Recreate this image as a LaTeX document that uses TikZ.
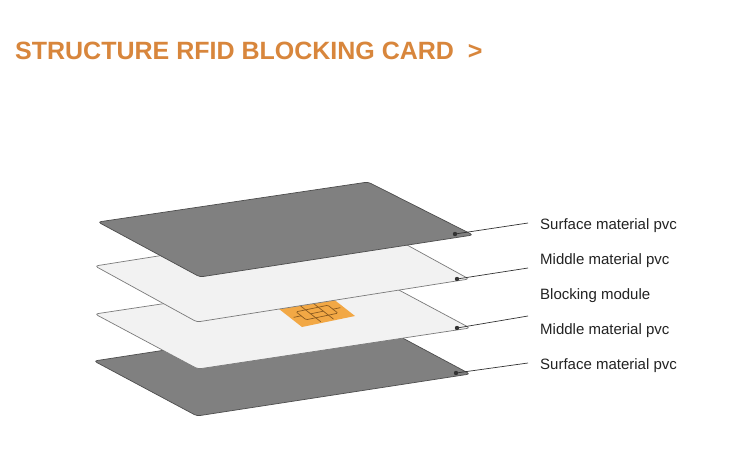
\documentclass[tikz,border=0pt]{standalone}
\usepackage{fontspec}
\setmainfont{Liberation Sans}
\definecolor{titleorange}{HTML}{D8863C}
\definecolor{darkcard}{HTML}{808080}
\definecolor{darkedge}{HTML}{4D4D4D}
\definecolor{lightcard}{HTML}{F2F2F2}
\definecolor{lightedge}{HTML}{7A7A7A}
\definecolor{chipfill}{HTML}{F2A845}
\definecolor{chipline}{HTML}{8A5A20}
\definecolor{leader}{HTML}{333333}
\definecolor{labeltext}{HTML}{222222}
\begin{document}
\begin{tikzpicture}[x=1pt,y=1pt,
  darkcardstyle/.style={fill=darkcard,draw=darkedge,line width=0.7pt,rounded corners=3pt,line join=round},
  lightcardstyle/.style={fill=lightcard,draw=lightedge,line width=0.7pt,rounded corners=3pt,line join=round},
  chipcontact/.style={draw=chipline,line width=0.7pt,rounded corners=1.2pt},
  leaderline/.style={draw=leader,line width=0.7pt},
  leaderdot/.style={circle,fill=leader,inner sep=0pt,minimum size=4.4pt},
  labelnode/.style={anchor=base west,inner sep=0pt,text=labeltext,font=\fontsize{15}{18}\selectfont},
  titlenode/.style={anchor=west,inner sep=0pt,text=titleorange,font=\fontsize{25}{30}\selectfont\bfseries}]
\useasboundingbox (0,0) rectangle (750,-458);
\fill[white] (0,0) rectangle (750,-458);

% title
\node[titlenode] (title) at (15,-51) {STRUCTURE RFID BLOCKING CARD\ \ >};

% bottom dark card
\draw[darkcardstyle] (94,-361) -- (367,-319) -- (470,-374) -- (197,-416) -- cycle;
% middle card 2
\draw[lightcardstyle] (95,-314) -- (367,-273) -- (470,-328) -- (198,-369) -- cycle;
% chip on middle card 2
\begin{scope}[shift={(302,-327)},x={(53pt,11pt)},y={(-23pt,18pt)}]
  \fill[chipfill] (0,0) -- (1,0) -- (1,1) -- (0,1) -- cycle;
  % central band
  \draw[chipcontact] (0.2,0.28) -- (0.8,0.28) -- (0.8,0.72) -- (0.2,0.72) -- cycle;
  % dividers across the chip
  \draw[chipcontact] (0.38,0.06) -- (0.38,0.94);
  \draw[chipcontact] (0.62,0.06) -- (0.62,0.94);
  \draw[chipcontact] (0.06,0.5) -- (0.2,0.5);
  \draw[chipcontact] (0.8,0.5) -- (0.94,0.5);
  \draw[chipcontact] (0.38,0.5) -- (0.62,0.5);
\end{scope}
% middle card 1
\draw[lightcardstyle] (95,-266) -- (367,-223) -- (469,-279) -- (197,-322) -- cycle;
% top dark card
\draw[darkcardstyle] (98,-222) -- (368,-182) -- (473,-235) -- (200,-277) -- cycle;

% leader dots and ends
\node[leaderdot] (d1) at (455,-234) {};
\node[leaderdot] (d2) at (457,-279) {};
\node[leaderdot] (d3) at (457,-328) {};
\node[leaderdot] (d4) at (456,-373) {};
\coordinate (e1) at (528,-223);
\coordinate (e2) at (528,-268);
\coordinate (e3) at (528,-316);
\coordinate (e4) at (528,-363);
\draw[leaderline] (d1.center) -- (e1);
\draw[leaderline] (d2.center) -- (e2);
\draw[leaderline] (d3.center) -- (e3);
\draw[leaderline] (d4.center) -- (e4);

% labels
\node[labelnode] (l1) at (540,-229.5) {Surface material pvc};
\node[labelnode] (l2) at (540,-264.5) {Middle material pvc};
\node[labelnode] (l3) at (540,-299.5) {Blocking module};
\node[labelnode] (l4) at (540,-334) {Middle material pvc};
\node[labelnode] (l5) at (540,-369) {Surface material pvc};
\end{tikzpicture}
\end{document}
